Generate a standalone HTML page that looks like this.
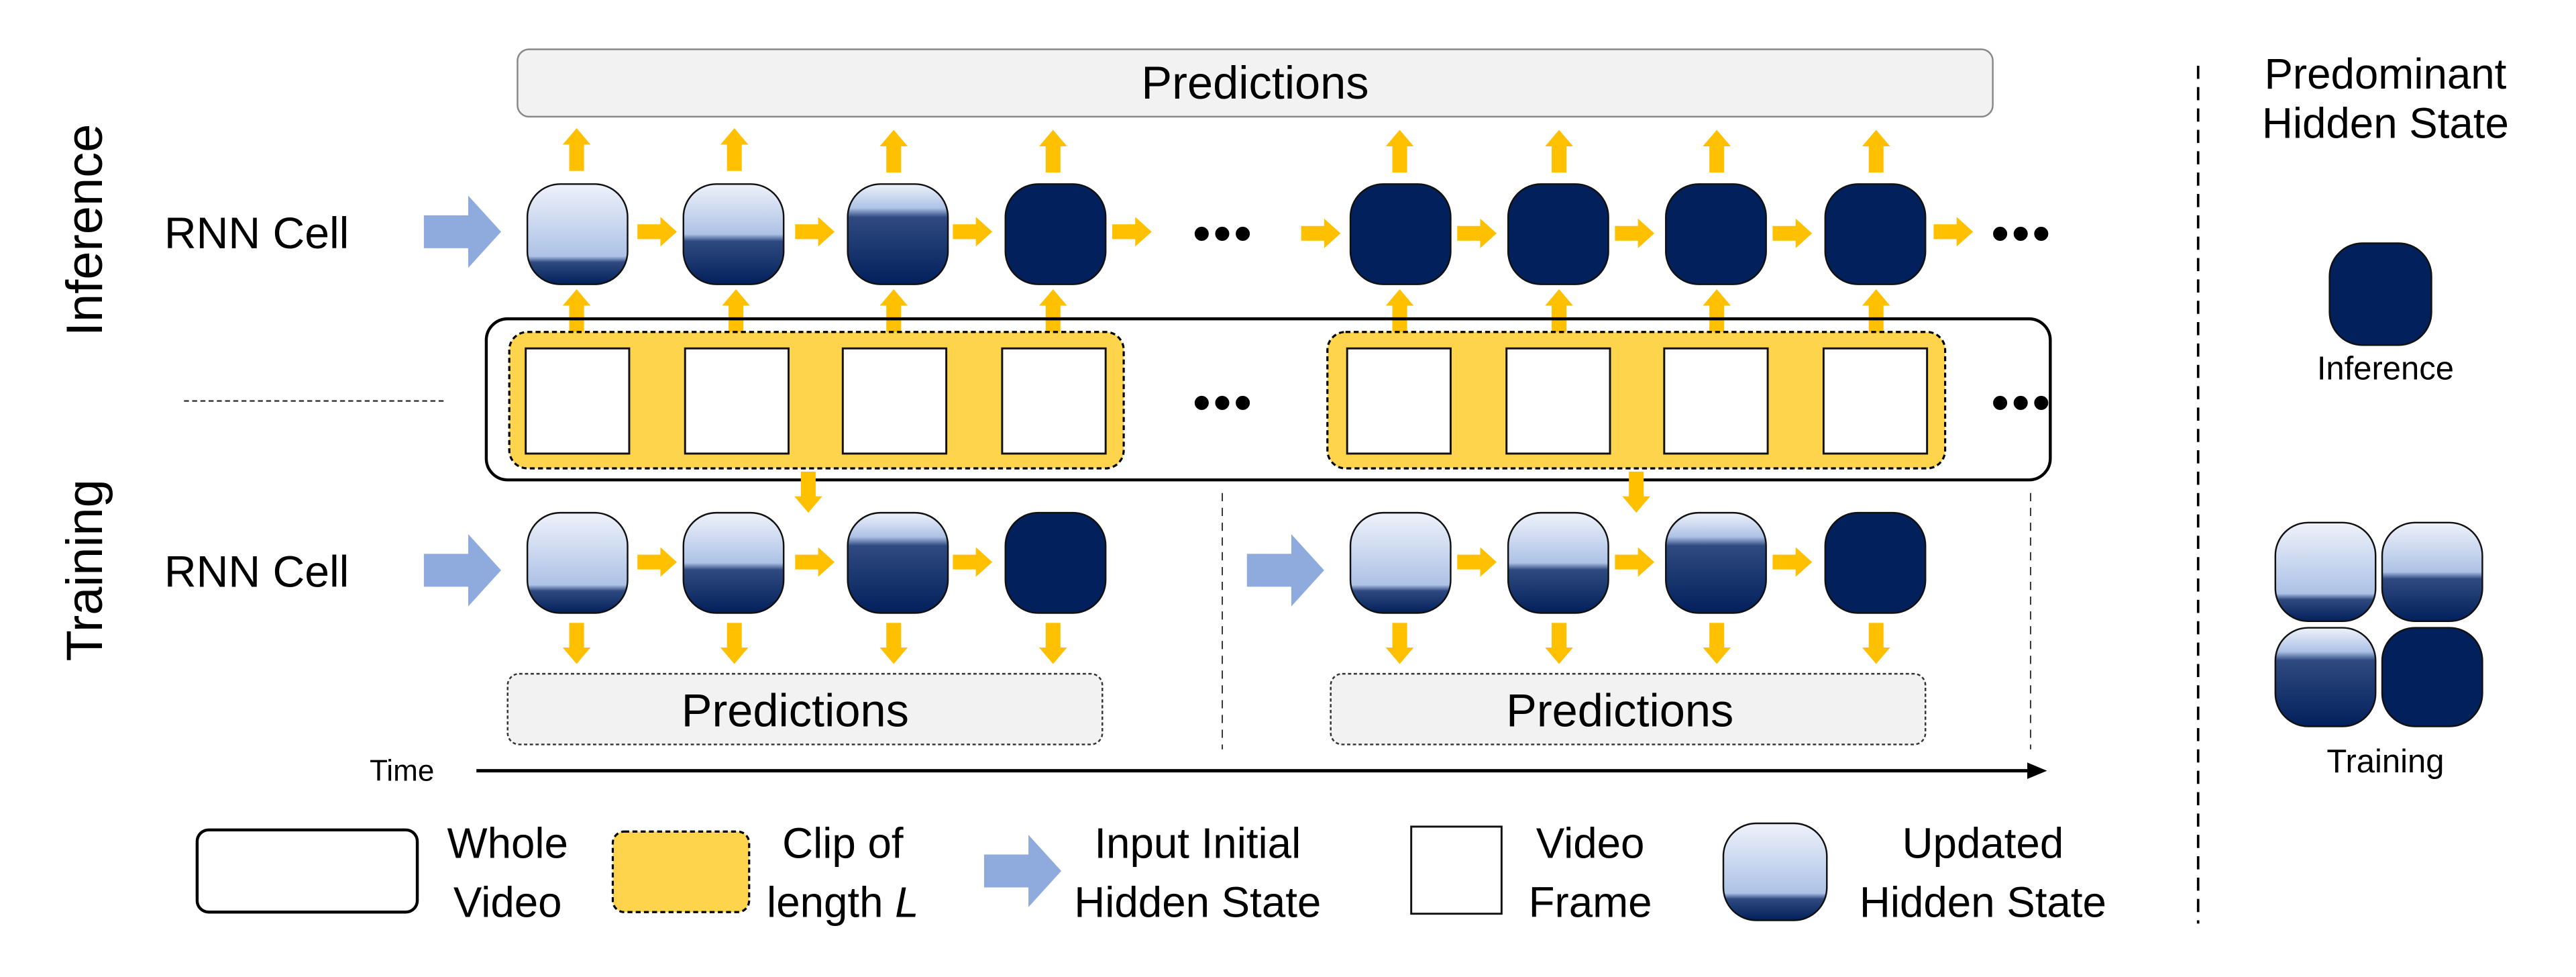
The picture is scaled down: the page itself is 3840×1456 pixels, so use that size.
<!DOCTYPE html>
<html><head><meta charset="utf-8"><style>
html,body{margin:0;padding:0;background:#fff;}
svg{display:block;}
text{font-family:"Liberation Sans",sans-serif;fill:#000;}
</style></head><body>
<svg width="3840" height="1456" viewBox="0 0 1568 594.5" preserveAspectRatio="none" xmlns="http://www.w3.org/2000/svg">
<defs>
<linearGradient id="g1" x1="0" y1="0" x2="0" y2="1">
<stop offset="0" stop-color="#eef2fa"/><stop offset="0.72" stop-color="#adc2e6"/><stop offset="0.78" stop-color="#2f4a80"/><stop offset="1" stop-color="#02205c"/></linearGradient>
<linearGradient id="g2" x1="0" y1="0" x2="0" y2="1">
<stop offset="0" stop-color="#eef2fa"/><stop offset="0.5" stop-color="#adc2e6"/><stop offset="0.57" stop-color="#2f4a80"/><stop offset="1" stop-color="#02205c"/></linearGradient>
<linearGradient id="g3" x1="0" y1="0" x2="0" y2="1">
<stop offset="0" stop-color="#eef2fa"/><stop offset="0.24" stop-color="#adc2e6"/><stop offset="0.33" stop-color="#2f4a80"/><stop offset="1" stop-color="#02205c"/></linearGradient>
<g id="ra"><path d="M0,-4.5 H14 V-9 L24,0 L14,9 V4.5 H0 Z" fill="#ffc000"/></g>
<g id="ua"><path d="M-4.5,25 V9 H-8.5 L0,-1 L8.5,9 H4.5 V25 Z" fill="#ffc000"/></g>
<g id="da"><path d="M-4.5,0 V15 H-8.5 L0,25 L8.5,15 H4.5 V0 Z" fill="#ffc000"/></g>
<g id="ba"><path d="M0,-10 H27 V-22 L47,0 L27,22 V10 H0 Z" fill="#8faadc"/></g>
<rect id="c1" width="61" height="61" rx="20" fill="url(#g1)" stroke="#111" stroke-width="1"/>
<rect id="c2" width="61" height="61" rx="20" fill="url(#g2)" stroke="#111" stroke-width="1"/>
<rect id="c3" width="61" height="61" rx="20" fill="url(#g3)" stroke="#111" stroke-width="1"/>
<rect id="c4" width="61" height="61" rx="20" fill="#02205c" stroke="#111" stroke-width="1"/>
<rect id="fr" width="63" height="64" fill="#fff" stroke="#111" stroke-width="1.2"/>
</defs>

<rect x="315" y="30" width="898" height="41" rx="7" fill="#f2f2f2" stroke="#888" stroke-width="1"/>
<text x="764" y="60" font-size="28" text-anchor="middle">Predictions</text>

<text transform="translate(62,140) rotate(-90)" font-size="31" text-anchor="middle">Inference</text>
<text transform="translate(62,347) rotate(-90)" font-size="31" text-anchor="middle">Training</text>

<text x="100" y="151" font-size="27">RNN Cell</text>
<text x="100" y="357" font-size="27">RNN Cell</text>

<use href="#ba" x="258" y="141"/>
<use href="#ba" x="258" y="347"/>
<use href="#ba" x="759" y="347"/>

<use href="#c1" x="321" y="112"/><use href="#c2" x="416" y="112"/><use href="#c3" x="516" y="112"/><use href="#c4" x="612" y="112"/>
<use href="#c4" x="822" y="112"/><use href="#c4" x="918" y="112"/><use href="#c4" x="1014" y="112"/><use href="#c4" x="1111" y="112"/>
<use href="#ra" x="388" y="141"/><use href="#ra" x="484" y="141"/><use href="#ra" x="580" y="141"/><use href="#ra" x="677" y="141"/>
<use href="#ra" x="792" y="142"/><use href="#ra" x="887" y="142"/><use href="#ra" x="983" y="142"/><use href="#ra" x="1079" y="142"/><use href="#ra" x="1177" y="141"/>
<text x="745" y="152" font-size="30" text-anchor="middle" font-weight="bold" letter-spacing="2">•••</text>
<text x="1231" y="152" font-size="30" text-anchor="middle" font-weight="bold" letter-spacing="2">•••</text>
<g>
<use href="#ua" x="351" y="79"/><use href="#ua" x="447" y="79"/><use href="#ua" x="544" y="80"/><use href="#ua" x="641" y="80"/>
<use href="#ua" x="852" y="80"/><use href="#ua" x="949" y="80"/><use href="#ua" x="1045" y="80"/><use href="#ua" x="1142" y="80"/>
<use href="#ua" x="351" y="177"/><use href="#ua" x="448" y="177"/><use href="#ua" x="544" y="177"/><use href="#ua" x="641" y="177"/>
<use href="#ua" x="852" y="177"/><use href="#ua" x="949" y="177"/><use href="#ua" x="1045" y="177"/><use href="#ua" x="1142" y="177"/>
</g>

<rect x="296" y="194" width="952" height="98" rx="13" fill="none" stroke="#000" stroke-width="1.8"/>
<rect x="310" y="202" width="374" height="83" rx="11" fill="#fed44d" stroke="#000" stroke-width="1.3" stroke-dasharray="3,2"/>
<rect x="808" y="202" width="376" height="83" rx="11" fill="#fed44d" stroke="#000" stroke-width="1.3" stroke-dasharray="3,2"/>
<use href="#fr" x="320" y="212"/><use href="#fr" x="417" y="212"/><use href="#fr" x="513" y="212"/><use href="#fr" x="610" y="212"/>
<use href="#fr" x="820" y="212"/><use href="#fr" x="917" y="212"/><use href="#fr" x="1013" y="212"/><use href="#fr" x="1110" y="212"/>
<text x="745" y="255" font-size="30" text-anchor="middle" font-weight="bold" letter-spacing="2">•••</text>
<text x="1231" y="255" font-size="30" text-anchor="middle" font-weight="bold" letter-spacing="2">•••</text>
<line x1="112" y1="244" x2="272" y2="244" stroke="#333" stroke-width="1" stroke-dasharray="3,2"/>

<use href="#da" x="492" y="287"/><use href="#da" x="996" y="287"/>

<use href="#c1" x="321" y="312"/><use href="#c2" x="416" y="312"/><use href="#c3" x="516" y="312"/><use href="#c4" x="612" y="312"/>
<use href="#c1" x="822" y="312"/><use href="#c2" x="918" y="312"/><use href="#c3" x="1014" y="312"/><use href="#c4" x="1111" y="312"/>
<use href="#ra" x="388" y="342"/><use href="#ra" x="484" y="342"/><use href="#ra" x="580" y="342"/>
<use href="#ra" x="887" y="342"/><use href="#ra" x="983" y="342"/><use href="#ra" x="1079" y="342"/>
<use href="#da" x="351" y="379"/><use href="#da" x="447" y="379"/><use href="#da" x="544" y="379"/><use href="#da" x="641" y="379"/>
<use href="#da" x="852" y="379"/><use href="#da" x="949" y="379"/><use href="#da" x="1045" y="379"/><use href="#da" x="1142" y="379"/>

<rect x="309" y="410" width="362" height="43" rx="7" fill="#f2f2f2" stroke="#333" stroke-width="1" stroke-dasharray="2,1.5"/>
<rect x="810" y="410" width="362" height="43" rx="7" fill="#f2f2f2" stroke="#333" stroke-width="1" stroke-dasharray="2,1.5"/>
<text x="484" y="442" font-size="28" text-anchor="middle">Predictions</text>
<text x="986" y="442" font-size="28" text-anchor="middle">Predictions</text>

<line x1="744" y1="300" x2="744" y2="456" stroke="#333" stroke-width="0.8" stroke-dasharray="5,4"/>
<line x1="1236" y1="300" x2="1236" y2="456" stroke="#333" stroke-width="0.8" stroke-dasharray="5,4"/>

<text x="225" y="475" font-size="18">Time</text>
<line x1="290" y1="469" x2="1236" y2="469" stroke="#000" stroke-width="2"/>
<path d="M1234,464 L1246,469 L1234,474 Z" fill="#000"/>

<rect x="120" y="505" width="134" height="50" rx="7" fill="#fff" stroke="#000" stroke-width="1.8"/>
<text x="309" y="522" font-size="26" text-anchor="middle">Whole</text>
<text x="309" y="558" font-size="26" text-anchor="middle">Video</text>
<rect x="373" y="506" width="83" height="49" rx="7" fill="#fed44d" stroke="#000" stroke-width="1.3" stroke-dasharray="3,2"/>
<text x="513" y="522" font-size="26" text-anchor="middle">Clip of</text>
<text x="513" y="558" font-size="26" text-anchor="middle">length <tspan font-style="italic">L</tspan></text>
<use href="#ba" x="599" y="530"/>
<text x="729" y="522" font-size="26" text-anchor="middle">Input Initial</text>
<text x="729" y="558" font-size="26" text-anchor="middle">Hidden State</text>
<rect x="859" y="503" width="55" height="53" fill="#fff" stroke="#111" stroke-width="1.2"/>
<text x="968" y="522" font-size="26" text-anchor="middle">Video</text>
<text x="968" y="558" font-size="26" text-anchor="middle">Frame</text>
<rect x="1049" y="501" width="63" height="59" rx="20" fill="url(#g1)" stroke="#111" stroke-width="1"/>
<text x="1207" y="522" font-size="26" text-anchor="middle">Updated</text>
<text x="1207" y="558" font-size="26" text-anchor="middle">Hidden State</text>

<line x1="1338" y1="40" x2="1338" y2="562" stroke="#000" stroke-width="1.5" stroke-dasharray="8,5"/>
<text x="1452" y="54" font-size="26" text-anchor="middle">Predominant</text>
<text x="1452" y="84" font-size="26" text-anchor="middle">Hidden State</text>
<rect x="1418" y="148" width="62" height="62" rx="20" fill="#02205c" stroke="#111" stroke-width="1"/>
<text x="1452" y="231" font-size="20" text-anchor="middle">Inference</text>
<rect x="1385" y="318" width="61" height="60" rx="20" fill="url(#g1)" stroke="#111" stroke-width="1"/>
<rect x="1450" y="318" width="61" height="60" rx="20" fill="url(#g2)" stroke="#111" stroke-width="1"/>
<rect x="1385" y="382" width="61" height="60" rx="20" fill="url(#g3)" stroke="#111" stroke-width="1"/>
<rect x="1450" y="382" width="61" height="60" rx="20" fill="#02205c" stroke="#111" stroke-width="1"/>
<text x="1452" y="470" font-size="20" text-anchor="middle">Training</text>
</svg>
</body></html>
